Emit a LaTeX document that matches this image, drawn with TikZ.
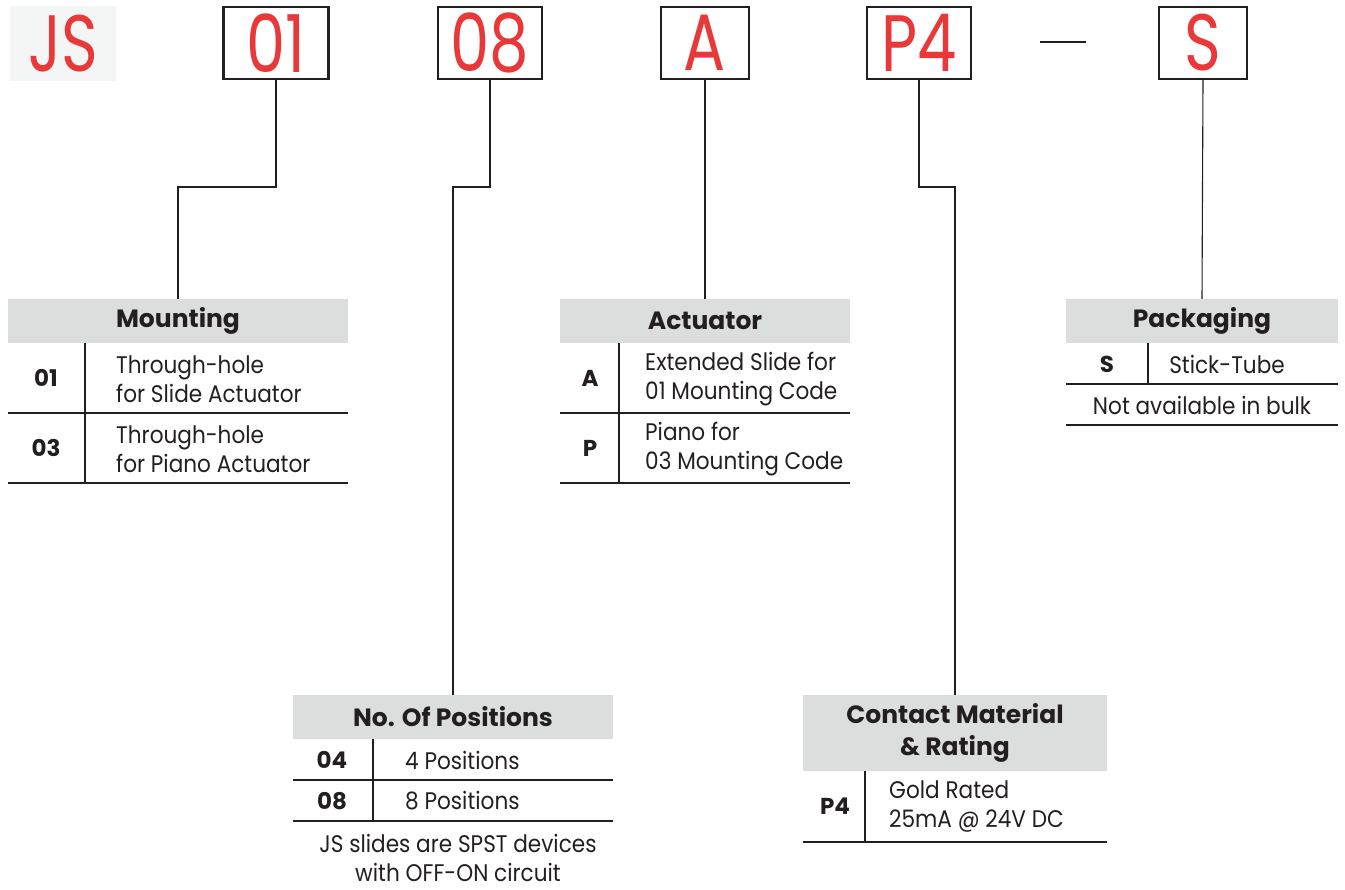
\documentclass[tikz,border=0pt]{standalone}
\usepackage{fontspec}
\setmainfont{Poppins}[FakeStretch=0.9]
\newfontfamily\codefont{Poppins}[FakeStretch=0.78]
\newfontfamily\hdrfont{Poppins}
\definecolor{codered}{HTML}{E8383A}
\definecolor{hdrgray}{HTML}{DCDDDD}
\definecolor{ink}{HTML}{231F20}
\definecolor{jsbg}{HTML}{F4F6F5}
\tikzset{
  codebox/.style={draw=ink, line width=2.4pt, fill=white, text=codered,
    font=\codefont\fontsize{80}{80}\selectfont, minimum height=72pt, inner sep=0pt},
  hdr/.style={fill=hdrgray, inner sep=0pt, minimum height=44pt, text=ink,
    font=\hdrfont\bfseries\fontsize{25}{32}\selectfont, align=center},
  codetxt/.style={text=ink, font=\hdrfont\bfseries\fontsize{23}{28}\selectfont, inner sep=0pt},
  desc/.style={text=ink, font=\fontsize{24}{29}\selectfont, inner sep=0pt, align=left},
  note/.style={text=ink, font=\fontsize{24}{29}\selectfont, inner sep=0pt, align=center},
  tline/.style={draw=ink, line width=1.4pt},
  conn/.style={draw=ink, line width=1.1pt}
}
\begin{document}
\begin{tikzpicture}[x=1pt,y=-1pt]
\useasboundingbox (0,0) rectangle (1345,890);
% top code row
\node[fill=jsbg, minimum width=106pt, minimum height=75pt, inner sep=0pt, text=codered,
  font=\codefont\fontsize{80}{80}\selectfont] (js) at (63,43.5) {JS};
\node[codebox, minimum width=105pt] (c01) at (276,43) {01};
\node[codebox, minimum width=104pt] (c08) at (490,43) {08};
\node[codebox, minimum width=88pt] (cA) at (705,43) {A};
\node[codebox, minimum width=104pt] (cP4) at (919,43) {P4};
\node[codebox, minimum width=88pt] (cS) at (1203,43) {S};
\draw[ink, line width=2.6pt] (1040,42) -- (1086,42);

% Mounting table
\node[hdr, minimum width=340pt] (mh) at (178,321) {Mounting};
\draw[tline] (8,413) -- (348,413);
\draw[tline] (8,483) -- (348,483);
\draw[tline] (85,343) -- (85,483);
\node[codetxt] (m01) at (46,378) {01};
\node[codetxt] (m03) at (46,448) {03};
\node[desc, anchor=west] (m01d) at (116,379) {Through-hole\\for Slide Actuator};
\node[desc, anchor=west] (m03d) at (116,449) {Through-hole\\for Piano Actuator};

% Actuator table
\node[hdr, minimum width=290pt] (ah) at (705,321) {Actuator};
\draw[tline] (560,413) -- (850,413);
\draw[tline] (560,483) -- (850,483);
\draw[tline] (619,343) -- (619,483);
\node[codetxt] (aA) at (590,378) {A};
\node[codetxt] (aP) at (590,448) {P};
\node[desc, anchor=west] (aAd) at (645,379) {Extended Slide for\\01 Mounting Code};
\node[desc, anchor=west] (aPd) at (645,449) {Piano for\\03 Mounting Code};

% Packaging table
\node[hdr, minimum width=272pt] (sh) at (1202,321) {Packaging};
\draw[tline] (1066,384) -- (1338,384);
\draw[tline] (1066,425) -- (1338,425);
\draw[tline] (1148,343) -- (1148,384);
\node[codetxt] (sS) at (1107,364) {S};
\node[desc] (sSd) at (1227,364) {Stick-Tube};
\node[note] (snote) at (1202,405) {Not available in bulk};

% Positions table
\node[hdr, minimum width=320pt] (ph) at (453,717) {No. Of Positions};
\draw[tline] (293,780) -- (613,780);
\draw[tline] (293,821) -- (613,821);
\draw[tline] (373,739) -- (373,821);
\node[codetxt] (p04) at (332,760) {04};
\node[codetxt] (p08) at (332,801) {08};
\node[desc, anchor=west] (p04d) at (405,760) {4 Positions};
\node[desc, anchor=west] (p08d) at (405,801) {8 Positions};
\node[note] (pnote) at (458,858) {JS slides are SPST devices\\with OFF-ON circuit};

% Contact table
\node[hdr, minimum width=304pt, minimum height=76pt] (ch) at (955,733) {Contact Material\\\& Rating};
\draw[tline] (803,842) -- (1107,842);
\draw[tline] (865,771) -- (865,842);
\node[codetxt] (cp4) at (835,806) {P4};
\node[desc, anchor=west] (cp4d) at (889,807) {Gold Rated\\25mA @ 24V DC};

% connectors
\coordinate (k01) at (178,187);
\coordinate (k08) at (453,187);
\coordinate (kP4) at (955,187);
\draw[conn] (c01.south) |- (k01) -- (mh.north);
\draw[conn] (c08.south) |- (k08) -- (ph.north);
\draw[conn] (cA.south) -- (ah.north);
\draw[conn] (cP4.south) |- (kP4) -- (ch.north);
\draw[conn] (cS.south) -- (sh.north);
\end{tikzpicture}
\end{document}
